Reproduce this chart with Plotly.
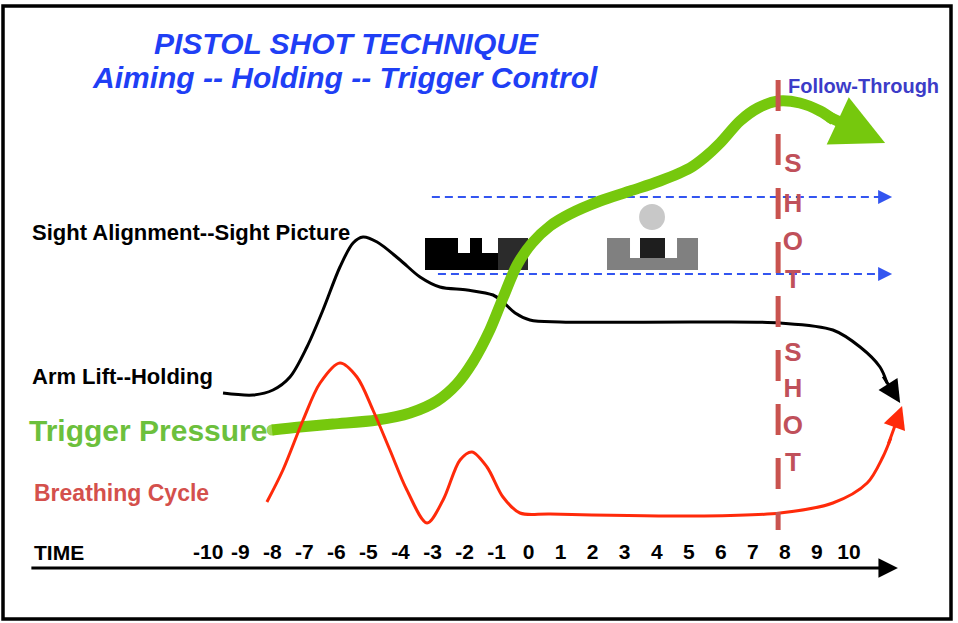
import plotly.graph_objects as go

# ---------------- data (TIME units on x, arbitrary "level" units on y) ----------------
TIME_TICKS = list(range(-10, 11))
TIME_LABELS = [str(v) for v in TIME_TICKS]

# Sight alignment / arm lift (black)
SIGHT_T = [-9.54, -8.60, -7.98, -7.45, -6.92, -6.42, -5.89, -5.48, -5.17, -4.73, -4.01, -3.39,
           -2.77, -1.92, -1.11, -0.80, -0.42, 0.04, 0.98, 5.35, 7.85, 9.50, 10.35, 10.97, 11.19]
SIGHT_LEVEL = [23.0, 22.8, 23.3, 24.6, 27.6, 31.3, 35.6, 38.0, 38.6, 38.1, 36.3, 34.6,
               33.6, 33.3, 32.8, 32.1, 31.0, 30.3, 30.1, 30.1, 30.0, 29.3, 27.6, 25.6, 24.0]

# Breathing cycle (red)
BREATH_T = [-8.17, -7.67, -7.04, -6.51, -5.89, -5.36, -4.86, -4.33, -3.80, -3.17, -2.67, -2.14,
            -1.77, -1.30, -0.80, -0.27, 0.67, 5.35, 7.85, 9.50, 10.57, 11.06, 11.31]
BREATH_LEVEL = [12.1, 15.3, 20.3, 24.0, 26.0, 24.6, 21.3, 17.3, 13.3, 10.0, 12.3, 16.3,
                17.1, 15.6, 12.6, 11.0, 10.9, 10.7, 11.0, 12.0, 14.0, 16.6, 18.5]

# Trigger pressure (green)
TRIGGER_T = [-8.01, -7.14, -6.11, -4.73, -3.70, -2.86, -2.24, -1.74, -1.21, -0.80, -0.36, 0.11,
             0.67, 1.29, 2.23, 3.17, 4.10, 5.04, 5.51, 5.98, 6.60, 7.16, 7.79, 8.47, 9.10, 9.53]
TRIGGER_LEVEL = [19.3, 19.6, 19.9, 20.3, 21.0, 22.2, 23.9, 26.1, 29.3, 32.5, 35.8, 38.0,
                 39.7, 40.9, 42.2, 43.2, 44.2, 45.5, 46.6, 48.0, 50.2, 51.5, 52.2, 52.0, 51.2, 50.3]

SHOT_TIME = 7.79
SHOT_LEVELS = [54.3, 9.3]
SHOT_LETTERS = ["S", "H", "O", "T", "S", "H", "O", "T"]
SHOT_LETTER_LEVELS = [45.8, 41.8, 38.0, 34.2, 26.9, 23.3, 19.6, 15.9]

# sight-plane guide arrows (blue dashed)
GUIDE_START_T = [-3.02, -2.83]
GUIDE_END_T = 10.97
GUIDE_TIP_T = 11.35
GUIDE_LEVELS = [42.6, 34.9]

# ---------------- colours / fonts ----------------
GREEN = "#76c80d"
GREEN_TXT = "#6cc03c"
RED = "#ff2a0a"
RED_TXT = "#d4504c"
SHOT_RED = "#c9534f"
SHOT_TXT = "#c0505a"
BLUE_DASH = "#3355f0"
TITLE_BLUE = "#1f3ff5"
FT_BLUE = "#3c3cc8"
FONT = "Liberation Sans, Arial, Helvetica, sans-serif"

X_RANGE = [-16.503, 13.406]
Y_RANGE = [0, 62.3]

fig = go.Figure()

# blue dashed guide lines
for st, lv in zip(GUIDE_START_T, GUIDE_LEVELS):
    fig.add_trace(go.Scatter(x=[st, GUIDE_END_T], y=[lv, lv], mode="lines",
                             line=dict(color=BLUE_DASH, width=2, dash="8px,5px"),
                             hoverinfo="skip"))

# black sight/holding curve
fig.add_trace(go.Scatter(x=SIGHT_T, y=SIGHT_LEVEL, mode="lines",
                         line=dict(color="black", width=3, shape="spline", smoothing=0.9),
                         hoverinfo="skip"))

# green trigger pressure
fig.add_trace(go.Scatter(x=TRIGGER_T, y=TRIGGER_LEVEL, mode="lines+markers",
                         line=dict(color=GREEN, width=11, shape="spline", smoothing=0.9),
                         marker=dict(color=GREEN, size=[11] + [0] * (len(TRIGGER_T) - 1),
                                     line=dict(width=0)),
                         hoverinfo="skip"))

# red breathing cycle
fig.add_trace(go.Scatter(x=BREATH_T, y=BREATH_LEVEL, mode="lines",
                         line=dict(color=RED, width=3, shape="spline", smoothing=0.9),
                         hoverinfo="skip"))

# SHOT dashed vertical line
fig.add_trace(go.Scatter(x=[SHOT_TIME, SHOT_TIME], y=SHOT_LEVELS, mode="lines",
                         line=dict(color=SHOT_RED, width=5, dash="31px,23px"),
                         hoverinfo="skip"))

# SHOT letters
fig.add_trace(go.Scatter(x=[SHOT_TIME + 0.46] * len(SHOT_LETTERS), y=SHOT_LETTER_LEVELS,
                         mode="text", text=SHOT_LETTERS, textposition="middle center",
                         textfont=dict(family=FONT, size=26, color=SHOT_TXT, weight="bold"),
                         hoverinfo="skip"))

# time tick labels
fig.add_trace(go.Scatter(x=TIME_TICKS, y=[6.9] * len(TIME_TICKS), mode="text",
                         text=TIME_LABELS, textposition="middle center",
                         textfont=dict(family=FONT, size=21, color="black", weight="bold"),
                         hoverinfo="skip"))

# ---------------- sight picture shapes ----------------
shapes = []
def rect(x0, x1, y0, y1, color):
    shapes.append(dict(type="rect", xref="x", yref="y", x0=x0, x1=x1, y0=y0, y1=y1,
                       fillcolor=color, line=dict(width=0), layer="below"))

# misaligned rear sight (black)
rect(-3.234, -0.019, 35.3, 37.0, "black")
rect(-3.234, -2.204, 37.0, 38.5, "black")
rect(-1.830, -1.455, 37.0, 38.5, "black")
rect(-0.955, -0.019, 35.3, 38.5, "#2b2b2b")
# correct sight picture (grey)
rect(2.448, 5.289, 35.3, 38.5, "#808080")
rect(3.166, 4.634, 36.5, 38.5, "white")
rect(3.478, 4.258, 36.5, 38.5, "#1e1e1e")
shapes.append(dict(type="circle", xref="x", yref="y", x0=3.450, x1=4.258, y0=39.3, y1=41.9,
                   fillcolor="#c8c8c8", line=dict(width=0), layer="below"))
# frame
shapes.append(dict(type="rect", xref="paper", yref="paper", x0=3 / 958, x1=951 / 958,
                   y0=1 - 619 / 623, y1=1 - 6 / 623, line=dict(color="black", width=3.5),
                   fillcolor="rgba(0,0,0,0)", layer="above"))

# ---------------- annotations ----------------
ann = []
def txt(x, y, s, size, color, anchor="left", italic=False):
    ann.append(dict(x=x, y=y, xref="x", yref="y", text=s, showarrow=False,
                    xanchor=anchor, yanchor="middle",
                    font=dict(family=FONT, size=size, color=color, weight="bold",
                              style="italic" if italic else "normal")))

def arrow(tail, tip, color, width, size, head=2):
    ann.append(dict(x=tip[0], y=tip[1], ax=tail[0], ay=tail[1], xref="x", yref="y",
                    axref="x", ayref="y", text="", showarrow=True, arrowhead=head,
                    arrowsize=size, arrowwidth=width, arrowcolor=color, standoff=0))

txt(-5.70, 58.0, "PISTOL SHOT TECHNIQUE", 30, TITLE_BLUE, "center", True)
txt(-5.74, 54.6, "Aiming -- Holding -- Trigger Control", 30, TITLE_BLUE, "center", True)
txt(-15.56, 39.1, "Sight Alignment--Sight Picture", 22, "black")
txt(-15.56, 24.7, "Arm Lift--Holding", 22, "black")
txt(-15.66, 19.3, "Trigger Pressure", 30, GREEN_TXT)
txt(-15.50, 13.0, "Breathing Cycle", 23, RED_TXT)
txt(8.04, 53.7, "Follow-Through", 20, FT_BLUE)
txt(-15.50, 7.1, "TIME", 21, "black")

# arrow heads / time axis
arrow((9.32, 50.7), (11.13, 48.0), GREEN, 11, 0.95)
arrow((11.04, 24.8), (11.60, 22.0), "black", 3, 1.5)
arrow((11.22, 17.8), (11.66, 21.7), RED, 3, 1.5)
for lv in GUIDE_LEVELS:
    arrow((GUIDE_END_T, lv), (GUIDE_TIP_T, lv), BLUE_DASH, 2, 1.4)
arrow((-15.57, 5.5), (11.53, 5.5), "black", 3, 1.3)

fig.update_layout(
    width=958, height=623, margin=dict(l=0, r=0, t=0, b=0),
    paper_bgcolor="white", plot_bgcolor="white", showlegend=False,
    xaxis=dict(range=X_RANGE, visible=False, fixedrange=True),
    yaxis=dict(range=Y_RANGE, visible=False, fixedrange=True),
    shapes=shapes, annotations=ann,
)

fig.write_html("out.html", config={"displayModeBar": False},
               post_script="document.body.style.margin='0px';document.body.style.overflow='hidden';")
